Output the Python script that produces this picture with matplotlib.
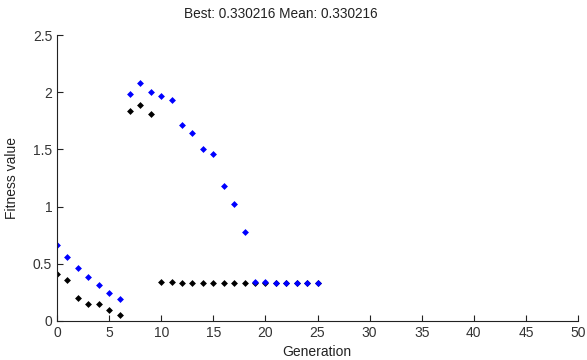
import matplotlib.pyplot as plt

plt.rcParams['font.family'] = ['Liberation Sans', 'DejaVu Sans']

generation = list(range(26))
best = [0.41, 0.356, 0.20, 0.15, 0.15, 0.10, 0.05, 1.84, 1.89, 1.81,
        0.343, 0.343, 0.332, 0.332, 0.332, 0.332, 0.332, 0.332, 0.332, 0.336,
        0.336, 0.330, 0.330, 0.330, 0.330, 0.330]
mean = [0.66, 0.56, 0.46, 0.385, 0.315, 0.245, 0.19, 1.98, 2.08, 2.00,
        1.97, 1.93, 1.71, 1.64, 1.50, 1.46, 1.18, 1.02, 0.78, 0.34,
        0.34, 0.33, 0.33, 0.33, 0.33, 0.33]

fig = plt.figure(figsize=(5.87, 3.6), dpi=100)
ax = fig.add_axes([57/587, 1 - 321/360, 521/587, 286/360])

ax.plot(generation, best, 'D', color='black', markersize=3.5, markeredgewidth=0)
ax.plot(generation, mean, 'D', color='blue', markersize=3.5, markeredgewidth=0)

ax.set_xlim(0, 50)
ax.set_ylim(0, 2.5)
ax.set_xticks(range(0, 51, 5))
ax.set_yticks([0, 0.5, 1, 1.5, 2, 2.5])
ax.set_yticklabels(['0', '0.5', '1', '1.5', '2', '2.5'])
ax.spines['top'].set_visible(False)
ax.spines['right'].set_visible(False)
ax.tick_params(direction='in', length=4, labelsize=10, color='#222222', labelcolor='#333333')
for s in ['left', 'bottom']:
    ax.spines[s].set_color('#222222')

fig.text(281/587, 1 - 14/360, 'Best: 0.330216 Mean: 0.330216', ha='center', va='center',
         fontsize=9.8, color='#222222')
fig.text(317/587, 1 - 352/360, 'Generation', ha='center', va='center', fontsize=10, color='#222222')
fig.text(12/587, 1 - 178/360, 'Fitness value', ha='center', va='center', rotation=90,
         fontsize=10, color='#222222')

fig.savefig('out.png', dpi=100)
